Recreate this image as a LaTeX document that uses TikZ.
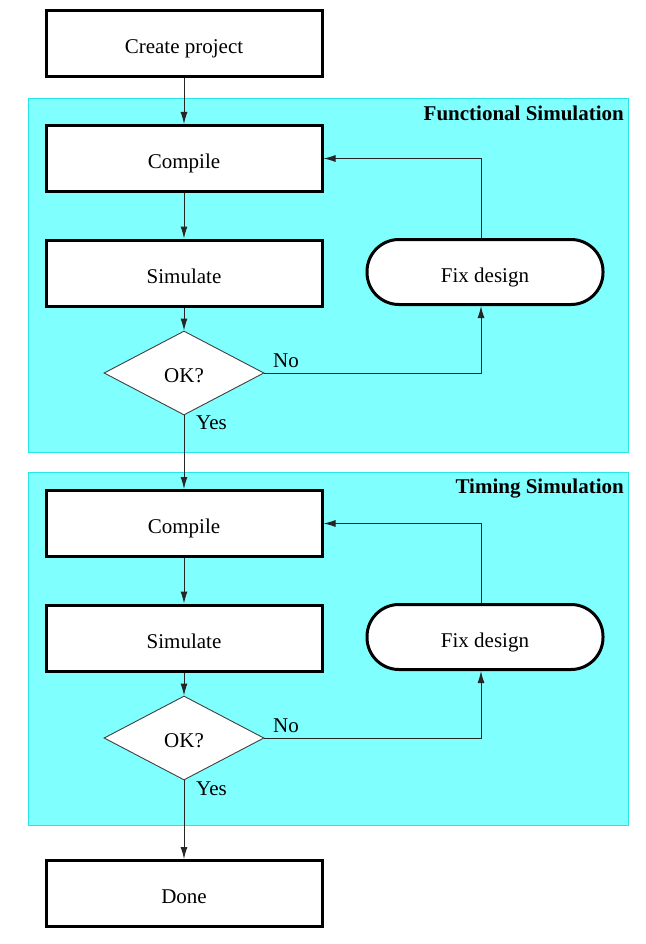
\documentclass[tikz,border=0pt]{standalone}
\usepackage{fontspec}
\setmainfont{Liberation Serif}
\usetikzlibrary{arrows.meta,shapes.geometric}
\begin{document}
\begin{tikzpicture}[x=1pt,y=-1pt,
  every node/.style={font=\fontsize{21}{24}\selectfont},
  stepbox/.style={draw=black,line width=3pt,fill=white,minimum width=276pt,minimum height=66pt,inner sep=0pt,text height=20pt,text depth=0pt},
  fixbox/.style={draw=black,line width=3pt,fill=white,rounded corners=32pt,minimum width=236pt,minimum height=65pt,inner sep=0pt,text height=20pt,text depth=0pt},
  decision/.style={diamond,draw=black!75,line width=0.9pt,fill=white,minimum width=160pt,minimum height=84pt,inner sep=0pt,aspect=1.9},
  panel/.style={draw={rgb,255:red,40;green,230;blue,230},fill={rgb,255:red,128;green,255;blue,255},line width=1pt},
  conn/.style={draw=black!85,line width=1pt,-{Latex[length=12pt,width=7pt]}},
  lbl/.style={inner sep=0pt},
  title/.style={font=\fontsize{21}{24}\selectfont\bfseries,anchor=north east,inner sep=0pt}]
\useasboundingbox (0,0) rectangle (645,944);
\fill[white] (0,0) rectangle (645,944);
% panels
\draw[panel] (28,99) rectangle (628,452);
\draw[panel] (28,472) rectangle (628,825);
\node[title] (t1) at (624,105.5) {Functional Simulation};
\node[title] (t2) at (624,478.5) {Timing Simulation};
% nodes
\node[stepbox] (create) at (184,44) {Create project};
\node[stepbox] (comp1) at (184,158.5) {Compile};
\node[stepbox] (sim1) at (184,273) {Simulate};
\node[fixbox] (fix1) at (485,272) {Fix design};
\node[decision] (ok1) at (184,373) {\raisebox{-2.5pt}[\height][\depth]{OK?}};
\node[stepbox] (comp2) at (184,523.5) {Compile};
\node[stepbox] (sim2) at (184,638) {Simulate};
\node[fixbox] (fix2) at (485,637) {Fix design};
\node[decision] (ok2) at (184,738) {\raisebox{-2.5pt}[\height][\depth]{OK?}};
\node[stepbox] (done) at (184,893.5) {Done};
% connectors
\draw[conn] (create) -- (comp1);
\draw[conn] (comp1) -- (sim1);
\draw[conn] (sim1) -- (ok1);
\draw[conn] (ok1.east) -| (fix1.south -| 481,0);
\draw[conn] (fix1.north -| 481,0) |- (comp1.east);
\draw[conn] (ok1.south) -- (comp2.north);
\draw[conn] (comp2) -- (sim2);
\draw[conn] (sim2) -- (ok2);
\draw[conn] (ok2.east) -| (fix2.south -| 481,0);
\draw[conn] (fix2.north -| 481,0) |- (comp2.east);
\draw[conn] (ok2.south) -- (done.north);
% labels
\node[lbl,anchor=south west] (no1) at (273,368) {No};
\node[lbl,anchor=north west] (yes1) at (196,416) {Yes};
\node[lbl,anchor=south west] (no2) at (273,733) {No};
\node[lbl,anchor=north west] (yes2) at (196,782) {Yes};
\end{tikzpicture}
\end{document}
